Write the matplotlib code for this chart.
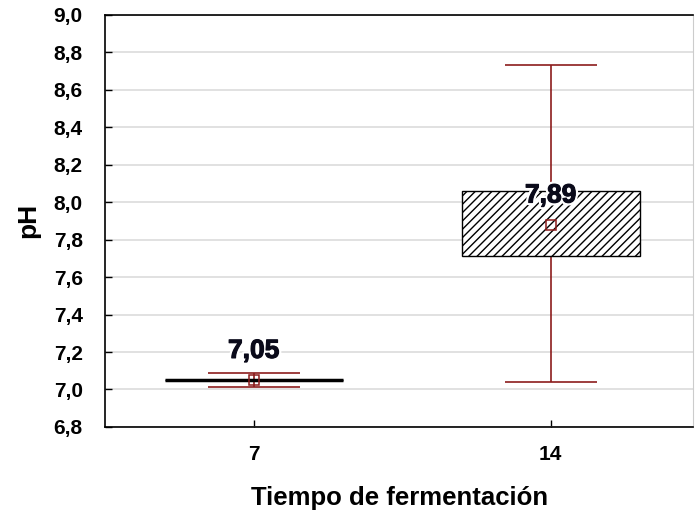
import numpy as np
import matplotlib.pyplot as plt
import matplotlib.patheffects as pe
from matplotlib.ticker import FuncFormatter

plt.rcParams['font.family'] = ['Liberation Sans', 'DejaVu Sans']
plt.rcParams['font.weight'] = 'bold'

# data
groups = ['7', '14']
means = [7.05, 7.88]
mean_labels = ['7,05', '7,89']
box_lo = [7.05, 7.715]
box_hi = [7.05, 8.06]
whisk_lo = [7.012, 7.04]
whisk_hi = [7.09, 8.733]

pos = np.arange(len(groups))
red = '#8c1c1c'

fig = plt.figure(figsize=(6.96, 5.15), dpi=100)
ax = fig.add_axes([0.151, 0.171, 0.845, 0.800])

# whiskers (drawn behind the box)
means_a = np.array(means)
yerr = [means_a - np.array(whisk_lo), np.array(whisk_hi) - means_a]
ax.errorbar(pos, means, yerr=yerr, fmt='none', ecolor=red, elinewidth=1.2,
            capsize=33, capthick=1.2, zorder=2)

# boxes
heights = np.array(box_hi) - np.array(box_lo)
ax.bar(pos, heights, bottom=box_lo, width=0.6, color='white', edgecolor='black',
       linewidth=1.0, hatch='////', zorder=3)
flat = heights == 0
ax.hlines(np.array(box_lo)[flat], pos[flat] - 0.3, pos[flat] + 0.3, colors='black',
          linewidth=2.5, zorder=3)

# mean markers
ax.plot(pos, means, 's', mfc='none', mec=red, ms=7, mew=1.1, zorder=5)

for x, m, lab in zip(pos, means, mean_labels):
    ax.annotate(lab, (x, m), xytext=(0, 21), textcoords='offset points',
                ha='center', va='center', fontsize=19, fontweight='bold',
                color='#0a0a1a', zorder=6,
                path_effects=[pe.Stroke(linewidth=4, foreground='white'),
                              pe.Stroke(linewidth=0.8, foreground='#0a0a1a'),
                              pe.Normal()])

ax.set_xlim(-0.5, 1.48)
ax.set_ylim(6.8, 9.0)
ax.set_yticks(np.arange(6.8, 9.01, 0.2))
ax.yaxis.set_major_formatter(FuncFormatter(lambda v, p: f'{v:.1f}'.replace('.', ',')))
ax.set_xticks(pos)
ax.set_xticklabels(groups)
ax.tick_params(direction='in', labelsize=15, length=5, width=1)
ax.tick_params(axis='y', pad=16)
ax.tick_params(axis='x', pad=13)
for lab in ax.get_xticklabels() + ax.get_yticklabels():
    lab.set_fontweight('bold')

ax.grid(axis='y', color='#dcdcdc', linewidth=1.2, zorder=0)
ax.set_axisbelow(True)
ax.spines['right'].set_color('#cccccc')
for s in ['left', 'bottom', 'top']:
    ax.spines[s].set_linewidth(1.2)

ax.set_xlabel('Tiempo de fermentación', fontsize=18.5, fontweight='bold', labelpad=16)
ax.set_ylabel('pH', fontsize=19, fontweight='bold', labelpad=10)

fig.savefig('out.png', dpi=100)
